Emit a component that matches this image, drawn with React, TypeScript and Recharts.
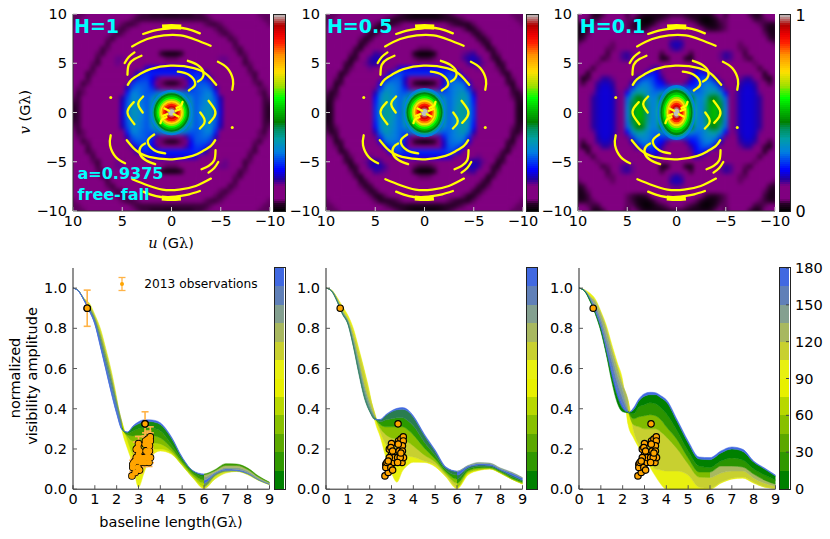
import React from "react";
import {
  Area,
  ComposedChart,
  ErrorBar,
  Line,
  ReferenceArea,
  Scatter,
  ScatterChart,
  XAxis,
  YAxis,
} from "recharts";

const FONT = '"DejaVu Sans"';

// visibility maps: one quadrant per panel, percent of the colour scale, u = 0..10 and v = 0..10 in steps of 0.5
const mapH1 = [
  [100,95,80,60,36,27,30,33,35,28,19,11,9,9,9,9,9,9,7,4,3],
  [95,90,75,57,35,27,30,33,34,28,18,11,9,9,9,9,9,9,7,4,3],
  [80,75,62,50,33,27,29,32,33,27,18,11,9,9,9,9,9,9,7,4,4],
  [62,58,50,40,30,27,29,31,32,26,17,10,9,9,9,9,9,8,6,4,5],
  [34,33,31,29,27,27,28,30,31,23,13,10,9,9,9,9,9,8,5,4,6],
  [9,9,10,15,24,27,28,29,27,18,10,9,9,9,9,9,8,7,5,5,7],
  [2,3,5,9,20,27,27,27,24,13,9,9,9,9,9,9,8,5,4,7,9],
  [11,11,12,15,21,25,25,23,15,9,9,9,9,9,9,8,7,4,6,8,9],
  [23,23,23,23,23,24,23,17,10,9,10,10,10,10,9,8,5,4,7,9,9],
  [20,20,20,20,20,19,13,10,9,10,11,12,12,10,9,6,4,6,8,9,9],
  [9,9,9,9,10,10,10,10,10,11,13,14,13,10,8,4,5,8,9,9,9],
  [5,5,6,7,8,9,9,10,11,12,14,14,12,9,6,4,7,9,9,9,9],
  [1,1,3,6,8,9,9,10,10,11,12,12,10,8,4,5,8,9,9,9,9],
  [6,6,7,8,9,9,9,9,9,10,10,10,8,5,4,7,9,9,9,9,9],
  [10,10,10,10,9,9,9,9,9,9,9,8,6,4,6,8,9,9,9,9,9],
  [10,10,10,10,9,9,9,9,9,9,8,6,4,5,8,9,9,9,9,9,8],
  [10,10,10,9,9,9,9,9,8,7,5,4,5,7,9,9,9,9,9,8,7],
  [9,9,9,9,9,9,8,7,6,5,4,5,7,9,9,9,9,9,8,7,6],
  [7,7,7,7,7,6,6,5,4,4,5,7,8,9,9,9,9,8,7,6,5],
  [4,4,4,4,4,4,4,4,5,6,7,8,9,9,9,9,8,7,6,5,5],
  [2,2,3,3,3,4,4,5,6,7,8,9,9,9,9,8,7,6,5,5,5],
];
const mapH05 = [
  [100,95,82,62,38,28,32,36,38,33,24,12,9,10,12,11,10,9,7,3,2],
  [95,90,77,58,37,28,32,36,38,33,24,12,9,10,12,11,10,9,7,3,2],
  [82,77,65,52,35,28,31,35,37,32,23,12,9,10,12,11,10,9,6,3,3],
  [62,58,52,42,31,28,31,34,36,31,22,11,9,10,12,11,10,8,5,3,4],
  [38,37,33,29,27,28,30,33,35,29,18,10,9,10,12,11,9,8,4,3,5],
  [9,9,10,14,23,28,30,32,31,24,14,9,9,10,11,10,9,7,3,5,7],
  [0,1,3,7,18,28,29,30,28,19,11,9,10,10,10,9,8,4,3,7,9],
  [10,10,11,13,19,27,28,26,20,12,9,9,10,10,9,9,6,3,5,8,9],
  [24,24,24,24,24,26,25,19,12,10,10,10,11,11,9,8,4,3,7,9,9],
  [20,20,20,20,20,20,14,11,10,11,13,14,13,11,9,5,3,6,8,9,9],
  [9,9,9,10,11,12,12,13,13,15,17,16,14,10,7,3,4,8,9,9,9],
  [4,4,5,7,9,11,12,13,15,17,18,16,12,9,4,3,7,9,9,9,9],
  [0,0,2,6,9,10,11,12,14,15,16,13,10,6,3,5,8,9,9,9,9],
  [5,5,6,8,9,9,10,10,11,12,12,10,7,3,4,7,9,9,9,9,9],
  [11,11,11,10,10,9,9,9,9,9,9,7,4,3,6,8,9,9,9,9,9],
  [12,12,12,11,10,9,9,9,9,8,7,4,3,5,8,9,9,9,9,9,8],
  [11,11,11,10,9,9,9,8,7,6,4,3,5,7,9,9,9,9,9,8,7],
  [9,9,9,9,9,8,7,6,5,3,3,5,7,9,9,9,9,9,8,7,6],
  [6,6,6,6,6,5,4,3,3,3,5,7,8,9,9,9,9,8,7,6,5],
  [2,2,2,2,3,3,3,4,5,6,7,8,9,9,9,9,8,7,6,5,5],
  [1,1,1,2,3,4,5,6,7,8,9,9,9,9,9,8,7,6,5,5,5],
];
const mapH01 = [
  [100,95,82,62,35,30,40,50,52,44,30,12,14,18,19,19,18,16,12,8,8],
  [95,90,78,58,34,30,40,50,52,44,30,12,14,18,19,19,18,16,12,8,8],
  [85,80,68,52,34,30,39,49,50,43,29,12,14,18,19,19,18,16,11,8,8],
  [72,68,58,46,32,30,37,45,46,39,28,11,14,18,19,19,18,16,10,8,8],
  [50,47,40,33,29,29,33,37,38,33,22,10,14,18,19,19,18,14,9,7,7],
  [28,27,26,25,25,29,32,33,32,25,14,9,13,17,19,19,17,12,8,6,6],
  [10,11,15,21,23,27,30,30,26,17,10,9,12,16,18,18,16,10,7,4,6],
  [8,8,9,16,21,26,27,25,17,11,9,9,11,14,16,16,13,8,4,2,7],
  [8,8,9,14,21,23,20,13,10,9,9,9,10,11,12,12,9,6,3,6,8],
  [9,9,10,13,17,15,11,10,9,10,9,10,10,9,9,8,7,4,6,8,9],
  [8,7,6,8,10,10,10,10,10,11,13,13,10,8,7,6,5,7,8,9,9],
  [7,6,3,2,6,9,9,9,11,14,16,15,11,8,5,4,7,8,9,9,9],
  [12,10,7,4,7,9,9,9,11,14,16,15,10,7,4,6,8,9,9,9,9],
  [17,15,12,9,9,9,9,9,9,11,13,11,8,5,5,8,9,9,9,8,7],
  [18,17,13,9,9,9,9,9,9,9,9,8,6,5,7,9,9,9,8,6,5],
  [15,14,10,9,9,9,8,8,8,8,8,7,6,7,9,9,9,8,6,4,3],
  [9,9,9,9,9,8,7,6,6,6,7,7,8,9,9,9,8,7,5,3,2],
  [8,8,8,8,7,6,4,3,3,4,5,7,8,9,9,9,7,6,4,2,2],
  [7,7,7,6,5,3,1,1,2,4,5,7,8,9,9,8,6,5,4,3,3],
  [6,6,5,4,3,1,0,1,3,5,5,7,8,9,8,6,4,4,5,6,6],
  [4,4,3,2,2,2,2,3,5,6,4,6,8,8,7,4,2,3,6,8,8],
];

// the bright core of each map, contours from the outside in
const coreLevels = [30,38,45,52,58,64,71,80,86,92,97,100];
const coreRxH1 = [2.15,1.95,1.8,1.62,1.45,1.3,1.15,1,0.85,0.65,0.48,0.32];
const coreRyH1 = [2.3,2.1,1.95,1.75,1.55,1.38,1.2,1.05,0.88,0.68,0.5,0.33];
const coreRxH05 = [2.15,1.98,1.83,1.65,1.45,1.3,1.13,0.98,0.82,0.62,0.46,0.32];
const coreRyH05 = [2.5,2.25,2.05,1.85,1.65,1.45,1.28,1.1,0.92,0.7,0.52,0.35];
const coreRxH01 = [1.95,1.78,1.63,1.45,1.28,1.12,0.98,0.85,0.7,0.52,0.4,0.28];
const coreRyH01 = [2.8,2.5,2.3,2.05,1.8,1.6,1.4,1.2,1,0.78,0.58,0.4];

// uv tracks, one half of the plane, [u, v]
const uvTracks = [
  [[2.88,7.97],[1.8,8.31],[0.95,8.47],[0,8.58],[-1.08,8.58],[-2.1,8.34],[-2.88,8.03]],
  [[4,6.71],[2.47,7.46],[0.78,7.83],[-0.92,7.83],[-2.44,7.39],[-3.97,6.78]],
  [[4.44,2.81],[4,3.39],[3.15,3.93],[2.14,4.41],[0.1,4.75],[-2.27,4.51],[-3.63,3.83],[-4.54,2.81]],
  [[4.75,5.02],[4.34,5.63],[3.76,6.1]],
  [[4.47,3.83],[4.34,4.85],[3.76,5.42],[3.05,5.76]],
  [[-4.71,5.15],[-5.66,4.51],[-6.24,3.32],[-6.17,2.31]],
  [[-1.66,5.25],[-2.61,4.85],[-3.22,4.17],[-3.12,3.49],[-2.68,3.15]],
  [[-0.64,4.14],[-1.76,3.83],[-2.41,2.98],[-2.1,2.47],[-1.76,2.24]],
  [[2.88,1.63],[3.32,1.12],[3.32,0.61],[2.92,0]],
  [[3.83,1.05],[4.34,0.44],[4.41,-0.24],[3.76,-1.19]],
  [[1.12,-1.08],[0.95,-0.68],[0.51,-0.47]],
  [[0.71,0.41],[0.24,0.17]],
  [[-0.41,0.17],[-0.85,0.34]],
];
const uvThick = [[0.95,8.68],[0,8.74],[-0.98,8.68]];
const uvDots = [[6.17,1.53]];

// baseline axis of the lower panels
const baselines = [0,0.25,0.5,0.75,1,1.25,1.5,1.75,2,2.25,2.5,2.75,3,3.25,3.5,3.75,4,4.5,5,5.5,6,6.5,7,7.5,8,8.5,9];

// amplitude curves per baseline, seven position angle edges at each baseline
const ampH1 = [
  [1,1,1,1,1,1,1],
  [0.985,0.985,0.986,0.986,0.987,0.987,0.988],
  [0.94,0.941,0.942,0.943,0.944,0.945,0.95],
  [0.885,0.887,0.89,0.893,0.9,0.91,0.925],
  [0.82,0.823,0.828,0.835,0.842,0.855,0.868],
  [0.71,0.715,0.725,0.735,0.75,0.775,0.8],
  [0.595,0.6,0.61,0.625,0.645,0.675,0.7],
  [0.48,0.485,0.5,0.52,0.54,0.565,0.59],
  [0.375,0.38,0.395,0.41,0.425,0.44,0.455],
  [0.295,0.297,0.3,0.305,0.31,0.33,0.29],
  [0.285,0.283,0.278,0.27,0.26,0.24,0.2],
  [0.315,0.31,0.29,0.265,0.24,0.17,0.12],
  [0.335,0.325,0.3,0.27,0.24,0.15,0.01],
  [0.345,0.335,0.305,0.27,0.235,0.18,0.08],
  [0.345,0.337,0.305,0.27,0.235,0.19,0.15],
  [0.342,0.333,0.3,0.265,0.23,0.2,0.18],
  [0.33,0.322,0.29,0.255,0.225,0.2,0.19],
  [0.262,0.255,0.225,0.205,0.19,0.18,0.175],
  [0.16,0.155,0.145,0.135,0.127,0.12,0.118],
  [0.092,0.09,0.085,0.075,0.065,0.058,0.055],
  [0.076,0.072,0.06,0.045,0.03,0.012,0.003],
  [0.097,0.092,0.085,0.08,0.075,0.065,0.05],
  [0.127,0.118,0.108,0.1,0.094,0.088,0.08],
  [0.125,0.118,0.108,0.098,0.092,0.09,0.088],
  [0.105,0.098,0.09,0.082,0.078,0.075,0.072],
  [0.065,0.06,0.055,0.05,0.047,0.045,0.043],
  [0.035,0.033,0.03,0.027,0.025,0.023,0.022],
];
const ampH05 = [
  [1,1,1,1,1,1,1],
  [0.985,0.986,0.987,0.988,0.989,0.99,0.99],
  [0.935,0.937,0.94,0.943,0.946,0.95,0.955],
  [0.87,0.873,0.877,0.88,0.885,0.895,0.91],
  [0.82,0.825,0.83,0.835,0.84,0.85,0.865],
  [0.71,0.715,0.725,0.74,0.755,0.78,0.8],
  [0.575,0.585,0.6,0.62,0.64,0.685,0.7],
  [0.455,0.465,0.48,0.5,0.52,0.58,0.595],
  [0.385,0.39,0.4,0.41,0.43,0.465,0.48],
  [0.345,0.35,0.352,0.354,0.356,0.37,0.335],
  [0.348,0.345,0.335,0.32,0.3,0.28,0.255],
  [0.372,0.368,0.345,0.31,0.27,0.22,0.155],
  [0.39,0.385,0.35,0.31,0.255,0.19,0.08],
  [0.402,0.395,0.355,0.31,0.25,0.17,0.035],
  [0.406,0.398,0.355,0.31,0.245,0.17,0.09],
  [0.395,0.387,0.34,0.295,0.235,0.165,0.12],
  [0.365,0.358,0.315,0.27,0.215,0.16,0.134],
  [0.275,0.268,0.235,0.205,0.17,0.14,0.133],
  [0.195,0.188,0.168,0.15,0.135,0.12,0.112],
  [0.11,0.105,0.095,0.085,0.075,0.065,0.06],
  [0.09,0.088,0.07,0.05,0.03,0.01,0.002],
  [0.118,0.115,0.108,0.1,0.09,0.08,0.07],
  [0.133,0.127,0.12,0.113,0.105,0.097,0.093],
  [0.13,0.125,0.118,0.112,0.107,0.102,0.1],
  [0.105,0.1,0.095,0.09,0.085,0.08,0.078],
  [0.085,0.08,0.07,0.062,0.055,0.05,0.05],
  [0.058,0.054,0.045,0.04,0.033,0.028,0.025],
];
const ampH01 = [
  [1,1,1,1,1,1,1],
  [0.985,0.986,0.987,0.988,0.989,0.99,0.992],
  [0.935,0.94,0.945,0.95,0.955,0.96,0.975],
  [0.87,0.875,0.885,0.9,0.915,0.935,0.945],
  [0.785,0.795,0.81,0.83,0.85,0.875,0.885],
  [0.67,0.68,0.7,0.73,0.765,0.8,0.815],
  [0.535,0.56,0.595,0.635,0.67,0.7,0.72],
  [0.43,0.46,0.49,0.53,0.57,0.61,0.63],
  [0.385,0.4,0.42,0.45,0.49,0.52,0.54],
  [0.38,0.382,0.384,0.386,0.388,0.44,0.32],
  [0.405,0.395,0.375,0.35,0.32,0.29,0.255],
  [0.45,0.44,0.41,0.36,0.31,0.22,0.205],
  [0.475,0.462,0.42,0.365,0.3,0.17,0.16],
  [0.482,0.47,0.43,0.37,0.3,0.125,0.11],
  [0.48,0.47,0.425,0.365,0.3,0.1,0.065],
  [0.465,0.455,0.405,0.345,0.285,0.095,0.025],
  [0.445,0.435,0.375,0.31,0.26,0.09,0],
  [0.345,0.335,0.29,0.245,0.2,0.09,0],
  [0.24,0.23,0.19,0.155,0.125,0.07,0],
  [0.16,0.15,0.115,0.085,0.06,0.01,0],
  [0.157,0.147,0.108,0.085,0.058,0.005,0],
  [0.19,0.18,0.14,0.115,0.08,0.035,0.03],
  [0.21,0.2,0.155,0.115,0.09,0.055,0.05],
  [0.198,0.188,0.145,0.11,0.09,0.06,0.055],
  [0.14,0.135,0.1,0.075,0.055,0.035,0.03],
  [0.105,0.1,0.07,0.045,0.03,0.012,0.01],
  [0.07,0.065,0.045,0.025,0.015,0.005,0.004],
];

// band colours per panel: below the first dip, after it, after the second dip
const bandsH1 = [
  ["#4169e1","#4169e1","#3a9a00"],
  ["#4a74cc","#178a10","#a8b860"],
  ["#4f80a8","#3a9a00","#84a090"],
  ["#4a8a70","#80bc00","#4169e1"],
  ["#8aa848","#b8d800","#6a9a50"],
  ["#d8e420","#e8f010","#d8e820"],
];
const bandsH05 = [
  ["#2e7d5e","#4169e1","#84a090"],
  ["#4a8a80","#2a7d50","#4169e1"],
  ["#6f9a90","#2a9a00","#2a7d50"],
  ["#8fb070","#88c000","#2a9a00"],
  ["#c8d030","#c8d030","#a0c800"],
  ["#e8f010","#e8f010","#e8f000"],
];
const bandsH01 = [
  ["#008000","#4169e1","#4169e1"],
  ["#4169e1","#008000","#008000"],
  ["#6080b8","#2a9400","#2a9400"],
  ["#84a090","#80bc00","#a8b860"],
  ["#a8b860","#c8d030","#c8d030"],
  ["#e8f010","#e8f010","#e8f010"],
];
const bandBreaks = [0.25, 0.667];

// observations: baseline, amplitude, error
const obsBaseline = [0.65,3.3,2.7,2.85,2.74,2.74,2.79,2.97,3.05,2.97,3.12,3,2.9,3,2.97,3.05,3.12,3.28,3.35,3.32,3.43,3.54,3.54,3.5,3.5,3.48,3.55,3.4,3.31,3.43,2.9,2.85,3.28];
const obsAmp = [0.9,0.325,0.066,0.083,0.124,0.108,0.133,0.108,0.095,0.14,0.133,0.174,0.199,0.227,0.207,0.19,0.157,0.157,0.19,0.24,0.249,0.26,0.24,0.216,0.19,0.133,0.157,0.157,0.224,0.18,0.157,0.14,0.133];
const obsErr = [0.09,0.06,0.01,0.015,0.02,0.02,0.02,0.02,0.015,0.03,0.025,0.03,0.035,0.035,0.03,0.03,0.025,0.025,0.03,0.04,0.04,0.05,0.04,0.035,0.03,0.02,0.025,0.025,0.035,0.03,0.025,0.025,0.02];

const uvTicks = [-10, -5, 0, 5, 10];
const baseTicks = [0, 1, 2, 3, 4, 5, 6, 7, 8, 9];
const ampTicks = [0, 0.2, 0.4, 0.6, 0.8, 1];
const angleTicks = [0, 30, 60, 90, 120, 150, 180];
const angleColors = ["#008000","#309800","#5ca800","#88c000","#b8d800","#e8f000","#e8f010","#c8d030","#a8b860","#84a090","#6080b8","#4169e1"];

const cmapStops: [number, number[]][] = [
  [0, [0, 0, 0]], [0.035, [40, 0, 40]], [0.06, [128, 0, 128]], [0.13, [128, 0, 128]], [0.165, [32, 0, 160]],
  [0.21, [0, 0, 255]], [0.3, [0, 128, 224]], [0.37, [0, 160, 160]], [0.42, [0, 144, 96]], [0.455, [0, 128, 0]],
  [0.52, [0, 192, 0]], [0.575, [0, 255, 0]], [0.64, [160, 224, 0]], [0.71, [255, 224, 0]], [0.795, [255, 144, 0]],
  [0.855, [255, 32, 0]], [0.9, [238, 0, 0]], [0.95, [176, 0, 0]], [1, [192, 192, 192]],
];

const cmap = (t: number) => {
  for (let i = 1; i < cmapStops.length; i++) {
    const [b, cb] = cmapStops[i];
    if (t <= b) {
      const [a, ca] = cmapStops[i - 1];
      const f = (t - a) / (b - a);
      const c = ca.map((v, k) => Math.round(v + (cb[k] - v) * f));
      return `rgb(${c[0]},${c[1]},${c[2]})`;
    }
  }
  return "rgb(192,192,192)";
};

// quadrant table to full plane cells
const toCells = (quadrant: number[][]) => {
  const cells: { u: number; v: number; level: number }[] = [];
  quadrant.forEach((row, j) =>
    row.forEach((level, i) => {
      [1, -1].forEach((su) =>
        [1, -1].forEach((sv) => {
          if ((su < 0 && i === 0) || (sv < 0 && j === 0)) return;
          cells.push({ u: su * i * 0.5, v: sv * j * 0.5, level });
        })
      );
    })
  );
  return cells;
};

const toCore = (rx: number[], ry: number[]) =>
  coreLevels.map((level, i) => ({ u: 0, v: 0, level, rx: rx[i], ry: ry[i] }));

const toTrack = (track: number[][], sign = 1) => track.map(([u, v]) => ({ u: sign * u, v: sign * v }));

const allTracks = [...uvTracks.map((t) => toTrack(t)), ...uvTracks.map((t) => toTrack(t, -1))];
const thickTracks = [toTrack(uvThick), toTrack(uvThick, -1)];
const dotPoints = [...toTrack(uvDots), ...toTrack(uvDots, -1)];

const obsPoints = obsBaseline.map((b, i) => ({ b, y: obsAmp[i], err: obsErr[i] }));
const uvFormat = (v: number) => String(v).replace("-", "\u2212");

const Box = ({ x, y, w, h, children, style }: any) => (
  <div style={{ position: "absolute", left: x, top: y, width: w, height: h, ...style }}>{children}</div>
);

const Txt = ({ x, y, size = 14.5, color = "#000", weight = 400, rotate, children }: any) => (
  <div
    style={{
      position: "absolute",
      left: x,
      top: y,
      fontFamily: FONT,
      fontSize: size,
      fontWeight: weight,
      color,
      lineHeight: 1,
      whiteSpace: "nowrap",
      transform: rotate ? "translate(-50%,-50%) rotate(-90deg)" : "translate(-50%,-50%)",
    }}
  >
    {children}
  </div>
);

const tickFont = { fill: "#000", fontSize: 14.5, fontFamily: FONT };

const cellShape = (p: any) => (
  <rect x={p.cx - 2.7} y={p.cy - 2.7} width={5.4} height={5.4} fill={cmap(p.payload.level / 100)} />
);
const coreShape = (p: any) => (
  <ellipse cx={p.cx} cy={p.cy} rx={p.payload.rx * 9.85} ry={p.payload.ry * 9.85} fill={cmap(p.payload.level / 100)} />
);

const UvPanel = ({ x, quadrant, rx, ry }: any) => {
  const y = 14;
  const w = 197;
  const h = 197;
  const pad = 8;
  const inner = (data: any[], shape: any, blur: number) => (
    <div style={{ position: "absolute", left: -pad, top: -pad, filter: `blur(${blur}px)` }}>
      <ScatterChart width={w + pad * 2} height={h + pad * 2} margin={{ top: pad, right: pad, bottom: pad, left: pad }}>
        <XAxis type="number" dataKey="u" domain={[-10, 10]} reversed hide />
        <YAxis type="number" dataKey="v" domain={[-10, 10]} hide />
        <Scatter data={data} shape={shape} isAnimationActive={false} />
      </ScatterChart>
    </div>
  );
  return (
    <>
      <Box x={x} y={y} w={w} h={h} style={{ overflow: "hidden", background: "#800080" }}>
        {inner(toCells(quadrant), cellShape, 2)}
        {inner(toCore(rx, ry), coreShape, 0.7)}
      </Box>
      <Box x={x - 40} y={y - 10} w={w + 60} h={h + 40}>
        <ComposedChart width={w + 60} height={h + 40} margin={{ top: 10, right: 20, bottom: 0, left: 0 }}>
          <XAxis
            xAxisId="b"
            type="number"
            dataKey="u"
            domain={[-10, 10]}
            reversed
            ticks={uvTicks}
            height={30}
            tickSize={-4}
            tickMargin={9}
            tickFormatter={uvFormat}
            tick={tickFont}
            tickLine={{ stroke: "#ccc" }}
            axisLine={{ stroke: "#333" }}
            interval={0}
          />
          <XAxis
            xAxisId="t"
            orientation="top"
            type="number"
            dataKey="u"
            domain={[-10, 10]}
            reversed
            ticks={uvTicks}
            height={0}
            tickSize={-4}
            tick={false}
            tickLine={{ stroke: "#ccc" }}
            axisLine={{ stroke: "#333" }}
          />
          <YAxis
            yAxisId="l"
            type="number"
            dataKey="v"
            domain={[-10, 10]}
            ticks={uvTicks}
            width={40}
            tickSize={-4}
            tickMargin={10}
            tickFormatter={uvFormat}
            tick={tickFont}
            tickLine={{ stroke: "#ccc" }}
            axisLine={{ stroke: "#333" }}
            interval={0}
          />
          <YAxis
            yAxisId="r"
            orientation="right"
            type="number"
            dataKey="v"
            domain={[-10, 10]}
            ticks={uvTicks}
            width={0}
            tickSize={-4}
            tick={false}
            tickLine={{ stroke: "#ccc" }}
            axisLine={{ stroke: "#333" }}
          />
          {allTracks.map((t, i) => (
            <Line
              key={i}
              xAxisId="b"
              yAxisId="l"
              data={t}
              dataKey="v"
              type="natural"
              stroke="#ffff00"
              strokeWidth={2.3}
              strokeLinecap="round"
              dot={false}
              isAnimationActive={false}
            />
          ))}
          {thickTracks.map((t, i) => (
            <Line
              key={`thick-${i}`}
              xAxisId="b"
              yAxisId="l"
              data={t}
              dataKey="v"
              type="natural"
              stroke="#ffff00"
              strokeWidth={5}
              dot={false}
              isAnimationActive={false}
            />
          ))}
          <Scatter
            xAxisId="b"
            yAxisId="l"
            data={dotPoints}
            shape={(p: any) => <circle cx={p.cx} cy={p.cy} r={1.5} fill="#ffff00" />}
            isAnimationActive={false}
          />
        </ComposedChart>
      </Box>
    </>
  );
};

const obsShape = (p: any) => <circle cx={p.cx} cy={p.cy} r={3.2} fill="#ffa500" stroke="#000" strokeWidth={1.2} />;
const obsInner = (p: any) =>
  p.payload.err > 0.05 ? obsShape(p) : <circle cx={p.cx} cy={p.cy} r={2.9} fill="#ffa500" />;

const bandKey = (k: number) => (d: any) => (d.c ? [d.c[k], d.c[k + 1]] : undefined);

const AmpPanel = ({ x, id, rows, bands, showErrors }: any) => {
  const y = 267.5;
  const w = 196.5;
  const h = 221.2;
  const data = baselines.map((b, i) => ({ b, c: rows[i] }));
  return (
    <Box x={x - 40} y={y - 10} w={w + 60} h={h + 40}>
      <ComposedChart width={w + 60} height={h + 40} data={data} margin={{ top: 10, right: 20, bottom: 0, left: 0 }}>
        <defs>
          {bands.map((c: string[], k: number) => (
            <linearGradient key={k} id={`${id}-band-${k}`} x1="0" x2="1" y1="0" y2="0">
              <stop offset={0} stopColor={c[0]} />
              <stop offset={bandBreaks[0]} stopColor={c[0]} />
              <stop offset={bandBreaks[0]} stopColor={c[1]} />
              <stop offset={bandBreaks[1]} stopColor={c[1]} />
              <stop offset={bandBreaks[1]} stopColor={c[2]} />
              <stop offset={1} stopColor={c[2]} />
            </linearGradient>
          ))}
        </defs>
        <XAxis
          type="number"
          dataKey="b"
          domain={[0, 9]}
          ticks={baseTicks}
          height={30}
          tickSize={-4}
          tickMargin={9}
          tick={tickFont}
          tickLine={{ stroke: "#555" }}
          axisLine={{ stroke: "#222" }}
          interval={0}
        />
        <XAxis
          xAxisId="t"
          orientation="top"
          type="number"
          dataKey="b"
          domain={[0, 9]}
          ticks={baseTicks}
          height={0}
          tickSize={-4}
          tick={false}
          tickLine={{ stroke: "#555" }}
          axisLine={{ stroke: "#222" }}
        />
        <YAxis
          type="number"
          domain={[0, 1.1]}
          ticks={ampTicks}
          width={40}
          tickSize={-4}
          tickMargin={10}
          tickFormatter={(v: number) => v.toFixed(1)}
          tick={tickFont}
          tickLine={{ stroke: "#555" }}
          axisLine={{ stroke: "#222" }}
          interval={0}
        />
        <YAxis
          yAxisId="r"
          orientation="right"
          type="number"
          domain={[0, 1.1]}
          ticks={ampTicks}
          width={0}
          tickSize={-4}
          tick={false}
          tickLine={{ stroke: "#555" }}
          axisLine={{ stroke: "#222" }}
        />
        {[5, 4, 3, 2, 1, 0].map((k) => (
          <Area
            key={k}
            type="monotone"
            dataKey={bandKey(k)}
            fill={`url(#${id}-band-${k})`}
            fillOpacity={1}
            stroke={`url(#${id}-band-${k})`}
            strokeWidth={0.5}
            dot={false}
            activeDot={false}
            isAnimationActive={false}
          />
        ))}
        {showErrors ? <Scatter data={obsPoints} dataKey="y" shape={obsShape} isAnimationActive={false} /> : null}
        <Scatter data={obsPoints} dataKey="y" shape={showErrors ? obsInner : obsShape} isAnimationActive={false}>
          {showErrors ? (
            <ErrorBar dataKey="err" direction="y" width={3.5} stroke="#ffb347" strokeWidth={1.6} isAnimationActive={false} />
          ) : null}
        </Scatter>
      </ComposedChart>
    </Box>
  );
};

const LegendMarker = () => (
  <Box x={102} y={271} w={40} h={26}>
    <ScatterChart width={40} height={26} margin={{ top: 0, right: 0, bottom: 0, left: 0 }}>
      <XAxis type="number" dataKey="x" domain={[0, 2]} hide />
      <YAxis type="number" dataKey="y" domain={[0, 2]} hide />
      <Scatter
        data={[{ x: 1, y: 1, err: 0.5 }]}
        shape={(p: any) => <circle cx={p.cx} cy={p.cy} r={2} fill="#ffa500" />}
        isAnimationActive={false}
      >
        <ErrorBar dataKey="err" direction="y" width={3.5} stroke="#ffb347" strokeWidth={1.3} isAnimationActive={false} />
      </Scatter>
    </ScatterChart>
  </Box>
);

const ColorBar = ({ x, y, w, h, domain, ticks, levels, labels, bigLabels, showTicks }: any) => (
  <>
    <Box x={x} y={y - 12} w={w + 40} h={h + 24}>
      <ComposedChart
        width={w + 40}
        height={h + 24}
        data={[{ p: domain[0] }, { p: domain[1] }]}
        margin={{ top: 12, right: 0, bottom: 12, left: 0 }}
      >
        <XAxis type="number" dataKey="p" domain={domain} hide />
        <YAxis
          orientation="right"
          type="number"
          dataKey="p"
          domain={domain}
          ticks={ticks}
          width={40}
          tickSize={showTicks ? -3 : 0}
          tickMargin={showTicks ? 9 : 6}
          tick={labels ? { fill: "#000", fontSize: bigLabels ? 16 : 14.5, fontFamily: FONT } : false}
          tickLine={showTicks ? { stroke: "#444" } : false}
          axisLine={false}
          interval={0}
        />
        <Line dataKey="p" stroke="none" dot={false} activeDot={false} isAnimationActive={false} />
        {levels.map((l: any, i: number) => (
          <ReferenceArea
            key={i}
            x1={domain[0]}
            x2={domain[1]}
            y1={l.lo}
            y2={l.hi}
            fill={l.color}
            fillOpacity={1}
            stroke="none"
            shapeRendering="crispEdges"
          />
        ))}
      </ComposedChart>
    </Box>
    <Box x={x - 0.5} y={y - 0.5} w={w} h={h} style={{ border: "1px solid #222", boxSizing: "content-box" }} />
  </>
);

const mapLevels = Array.from({ length: 100 }, (_, i) => ({ lo: i / 100, hi: (i + 1) / 100, color: cmap((i + 0.5) / 100) }));
const angleLevels = angleColors.map((color, i) => ({ lo: i * 15, hi: (i + 1) * 15, color }));

const lambda = <span style={{ fontFamily: '"DejaVu Serif"' }}>λ</span>;

export default function App() {
  return (
    <div style={{ position: "absolute", left: 0, top: 0, width: 830, height: 539, background: "#fff", overflow: "hidden" }}>
      <UvPanel x={73} quadrant={mapH1} rx={coreRxH1} ry={coreRyH1} />
      <UvPanel x={325.7} quadrant={mapH05} rx={coreRxH05} ry={coreRyH05} />
      <UvPanel x={578.3} quadrant={mapH01} rx={coreRxH01} ry={coreRyH01} />

      <ColorBar x={273.5} y={14.5} w={10.5} h={196} domain={[0, 1]} ticks={[0, 1]} levels={mapLevels} />
      <ColorBar x={526.5} y={14.5} w={10.5} h={196} domain={[0, 1]} ticks={[0, 1]} levels={mapLevels} />
      <ColorBar x={779.3} y={14.5} w={10.5} h={196} domain={[0, 1]} ticks={[0, 1]} levels={mapLevels} labels bigLabels />

      <AmpPanel x={73} id="h1" rows={ampH1} bands={bandsH1} showErrors />
      <AmpPanel x={325.7} id="h05" rows={ampH05} bands={bandsH05} />
      <AmpPanel x={578.8} id="h01" rows={ampH01} bands={bandsH01} />
      <LegendMarker />

      <ColorBar x={274} y={267.5} w={10} h={221} domain={[0, 180]} ticks={angleTicks} levels={angleLevels} showTicks />
      <ColorBar x={526.7} y={267.5} w={10} h={221} domain={[0, 180]} ticks={angleTicks} levels={angleLevels} showTicks />
      <ColorBar x={779.3} y={267.5} w={10} h={221} domain={[0, 180]} ticks={angleTicks} levels={angleLevels} labels showTicks />

      <Txt x={96.5} y={26} size={19} weight={700} color="#00ffff">H=1</Txt>
      <Txt x={359.7} y={26} size={19} weight={700} color="#00ffff">H=0.5</Txt>
      <Txt x={612.6} y={26} size={19} weight={700} color="#00ffff">H=0.1</Txt>
      <Txt x={120.5} y={174} size={16} weight={700} color="#00ffff">a=0.9375</Txt>
      <Txt x={113.5} y={195} size={16} weight={700} color="#00ffff">free-fall</Txt>

      <Txt x={171} y={243}>
        <i style={{ fontFamily: '"DejaVu Serif"' }}>u</i> (G{lambda})
      </Txt>
      <Txt x={25} y={112} rotate>
        <i style={{ fontFamily: '"DejaVu Serif"' }}>v</i> (G{lambda})
      </Txt>

      <Txt x={201} y={284} size={12.2}>2013 observations</Txt>
      <Txt x={171} y={522}>baseline length(G{lambda})</Txt>
      <Txt x={15} y={378} rotate>normalized</Txt>
      <Txt x={32} y={376} rotate>visibility amplitude</Txt>
    </div>
  );
}
